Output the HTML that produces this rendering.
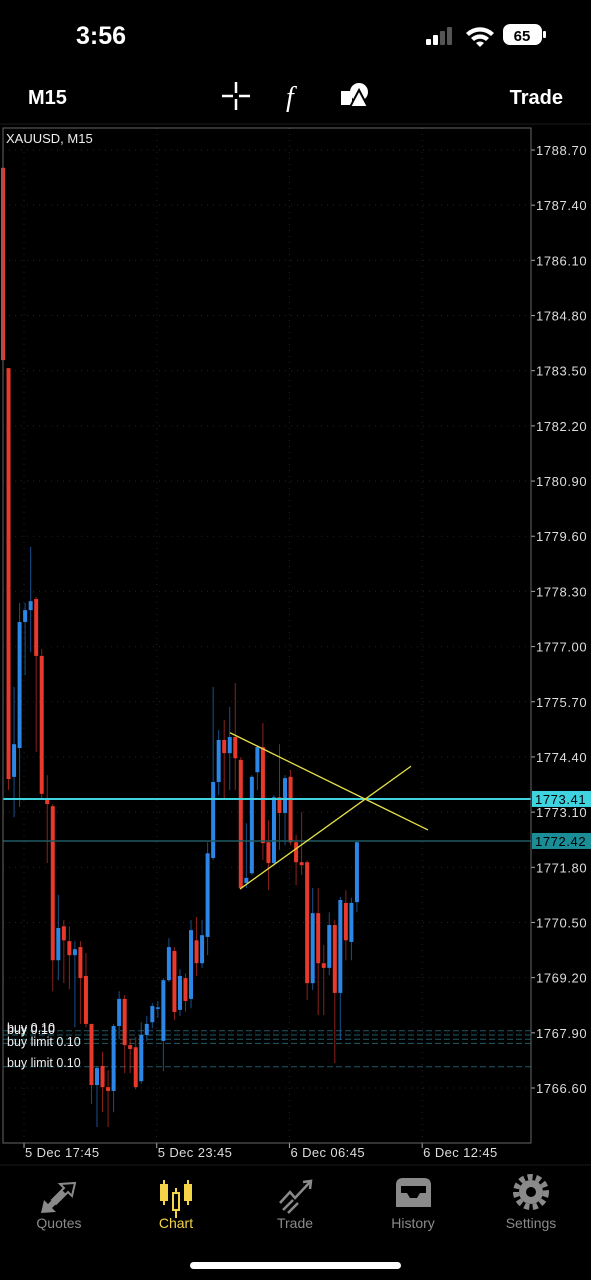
<!DOCTYPE html>
<html><head><meta charset="utf-8"><style>
html,body{margin:0;padding:0;background:#000;width:591px;height:1280px;overflow:hidden;font-family:"Liberation Sans",sans-serif;}
svg{display:block}
</style></head><body>
<svg id="root" width="591" height="1280" viewBox="0 0 591 1280">
  <rect width="591" height="1280" fill="#000"/>
  <text x="76" y="44" fill="#fff" font-size="25" font-weight="600">3:56</text>
  <g>
    <rect x="426" y="39" width="5" height="6" rx="1" fill="#fff"/>
    <rect x="433" y="35" width="5" height="10" rx="1" fill="#fff"/>
    <rect x="440" y="31" width="5" height="14" rx="1" fill="#555"/>
    <rect x="447" y="27" width="5" height="18" rx="1" fill="#555"/>
  </g>
  <g fill="#fff">
    <path d="M466 33 A20 20 0 0 1 494 33 L491 36 A16 16 0 0 0 469 36 Z"/>
    <path d="M471 38 A13 13 0 0 1 489 38 L486 41 A9 9 0 0 0 474 41 Z"/>
    <path d="M476 43 A6 6 0 0 1 484 43 L480 47 Z"/>
  </g>
  <g>
    <rect x="503" y="24" width="39" height="21" rx="7" fill="#fff"/>
    <rect x="543" y="31" width="3" height="7" rx="1" fill="#fff"/>
    <text x="522" y="41" fill="#000" font-size="15" font-weight="700" text-anchor="middle">65</text>
  </g>
  <text x="28" y="104" fill="#fff" font-size="20" font-weight="700">M15</text>
  <g stroke="#fff" stroke-width="2.5">
    <line x1="222" y1="96" x2="233" y2="96"/><line x1="239" y1="96" x2="250" y2="96"/>
    <line x1="236" y1="82" x2="236" y2="93"/><line x1="236" y1="99" x2="236" y2="110"/>
  </g>
  <text x="286" y="106" fill="#fff" font-size="28" font-style="italic" font-family="Liberation Serif,serif">f</text>
  <g fill="#fff">
    <rect x="341" y="91" width="11" height="14"/>
    <circle cx="359" cy="92" r="9"/>
    <polygon points="359,90 368,107 350,107" fill="#fff" stroke="#000" stroke-width="2"/>
  </g>
  <text x="563" y="104" fill="#fff" font-size="20" font-weight="700" text-anchor="end">Trade</text>
  <line x1="0" y1="124" x2="591" y2="124" stroke="#1a1a1a"/>
  <g id="chart"></g>
  <line x1="0" y1="1165" x2="591" y2="1165" stroke="#1a1a1a"/>
  <g>
    <g fill="#8a8a8a"><polygon points="41,1213 44,1200 48,1204 62,1190 66,1194 52,1208 56,1212"/><polygon points="75,1183 72,1196 68,1192 56,1204 52,1200 64,1188 60,1184" fill="none" stroke="#8a8a8a" stroke-width="2"/></g>
    <text x="59" y="1228" fill="#8a8a8a" font-size="14" text-anchor="middle">Quotes</text>
  </g>
  <g>
    <g fill="#f5d547" stroke="#f5d547" stroke-width="2">
      <line x1="164" y1="1180" x2="164" y2="1205"/><rect x="161" y="1185" width="6" height="15"/>
      <line x1="176" y1="1188" x2="176" y2="1218"/><rect x="173" y="1193" width="6" height="17" fill="#000"/>
      <line x1="188" y1="1180" x2="188" y2="1205"/><rect x="185" y="1185" width="6" height="15"/>
    </g>
    <text x="176" y="1228" fill="#f5d547" font-size="14" text-anchor="middle">Chart</text>
  </g>
  <g>
    <g stroke="#8a8a8a" stroke-width="2.5" fill="none"><polyline points="280,1203 290,1192 295,1198 310,1182"/><polyline points="303,1182 311,1181 310,1189"/><line x1="283" y1="1210" x2="293" y2="1200"/><line x1="288" y1="1213" x2="298" y2="1203"/></g>
    <text x="295" y="1228" fill="#8a8a8a" font-size="14" text-anchor="middle">Trade</text>
  </g>
  <g>
    <path d="M396 1185 Q396 1178 403 1178 L424 1178 Q431 1178 431 1185 L431 1207 L396 1207 Z" fill="#8a8a8a"/>
    <path d="M401 1186 L426 1186 L426 1193 L420 1193 L417 1198 L410 1198 L407 1193 L401 1193 Z" fill="#000"/>
    <text x="413" y="1228" fill="#8a8a8a" font-size="14" text-anchor="middle">History</text>
  </g>
  <g>
    <circle cx="531" cy="1192" r="15" fill="none" stroke="#8a8a8a" stroke-width="6" stroke-dasharray="5 3.4"/>
    <circle cx="531" cy="1192" r="12" fill="#8a8a8a"/><circle cx="531" cy="1192" r="5" fill="#000"/>
    <text x="531" y="1228" fill="#8a8a8a" font-size="14" text-anchor="middle">Settings</text>
  </g>
  <rect x="190" y="1262" width="211" height="7" rx="3.5" fill="#fff"/>
</svg>
<script>
const opens  = [1788.28,1783.56,1773.93,1774.61,1777.58,1777.86,1778.12,1776.78,1773.43,1773.24,1769.61,1770.41,1770.06,1769.73,1769.92,1769.24,1768.11,1766.67,1767.12,1766.62,1766.53,1768.06,1768.70,1767.61,1767.56,1766.76,1767.85,1768.15,1768.48,1767.71,1769.14,1769.83,1768.44,1769.19,1768.70,1770.08,1769.54,1770.16,1772.02,1773.81,1774.80,1774.49,1774.87,1774.33,1771.43,1771.66,1774.04,1774.63,1772.39,1771.90,1773.45,1773.08,1773.93,1772.39,1771.92,1771.92,1769.07,1770.72,1769.54,1769.43,1770.44,1768.84,1770.96,1770.04,1770.98];
const closes = [1783.75,1773.88,1774.70,1777.58,1777.86,1778.07,1776.78,1773.53,1773.29,1769.61,1770.37,1770.08,1769.73,1769.87,1769.19,1768.11,1766.67,1767.07,1766.62,1766.53,1768.06,1768.70,1767.61,1767.52,1766.62,1767.85,1768.11,1768.53,1768.50,1769.14,1769.92,1768.39,1769.24,1768.65,1770.32,1769.54,1770.20,1772.13,1773.81,1774.80,1774.49,1774.87,1774.37,1771.31,1771.55,1773.93,1774.63,1772.37,1771.90,1773.45,1773.08,1773.90,1772.39,1771.92,1771.85,1769.07,1770.72,1769.54,1769.43,1770.44,1768.84,1771.03,1770.08,1770.96,1772.39];
const highs  = [1788.28,1783.56,1776.05,1778.03,1778.03,1779.35,1778.17,1776.94,1773.97,1773.29,1771.15,1770.56,1770.41,1770.06,1770.06,1769.78,1768.11,1767.12,1767.45,1767.02,1768.11,1768.88,1768.79,1767.75,1767.80,1768.15,1768.30,1768.60,1768.65,1769.19,1770.13,1769.92,1769.40,1769.30,1770.56,1770.63,1770.56,1772.39,1776.05,1775.03,1775.27,1775.58,1776.14,1774.40,1772.84,1773.97,1774.68,1775.20,1772.91,1773.50,1774.70,1773.97,1774.09,1772.56,1773.10,1771.97,1771.31,1771.31,1769.97,1770.74,1770.56,1771.10,1771.26,1771.08,1772.41];
const lows   = [1783.75,1773.62,1772.98,1773.22,1776.33,1776.87,1774.52,1773.43,1771.90,1768.88,1769.14,1769.07,1768.93,1768.03,1768.11,1768.03,1766.22,1765.68,1766.03,1765.68,1766.03,1767.75,1766.95,1766.95,1766.57,1766.70,1767.70,1768.01,1768.25,1767.00,1769.10,1768.20,1768.30,1768.40,1768.48,1769.24,1769.43,1769.73,1771.97,1773.50,1773.38,1773.62,1773.62,1771.27,1771.31,1771.62,1773.62,1771.97,1771.26,1771.85,1772.21,1772.32,1772.32,1771.38,1771.62,1768.67,1768.91,1768.32,1768.32,1769.26,1767.19,1767.73,1769.61,1769.61,1770.74];
const priceTicks = ["1788.70","1787.40","1786.10","1784.80","1783.50","1782.20","1780.90","1779.60","1778.30","1777.00","1775.70","1774.40","1773.10","1771.80","1770.50","1769.20","1767.90","1766.60"];
const timeLabels = ["5 Dec 17:45","5 Dec 23:45","6 Dec 06:45","6 Dec 12:45"];
const timeLabelIdx = [3.8,27.8,51.8,75.8];
const levelPrices = [1773.41,1772.42];
const orderPrices = [1767.95,1767.85,1767.75,1767.65,1767.10];
const trendA = [[41.05,1774.97],[76.85,1772.68]];
const trendB = [[42.86,1771.29],[73.78,1774.18]];

const NS="http://www.w3.org/2000/svg";
const g=document.getElementById('chart');
const L=3,R=531,T=128,B=1143;
const yOf=p=>150+(1788.70-p)*(938/22.1);
const xOf=i=>3+i*5.53;
function mk(tag,attrs,parent){const e=document.createElementNS(NS,tag);for(const k in attrs)e.setAttribute(k,attrs[k]);(parent||g).appendChild(e);return e;}

priceTicks.forEach((t,i)=>{
  const y=yOf(parseFloat(t));
  const gl=mk('line',{x1:L,x2:R,y1:y,y2:y,stroke:'#232323','stroke-dasharray':'1 5'});
  
  
  mk('line',{x1:R,x2:R+4,y1:y,y2:y,stroke:'#aaa'});
  const tx=mk('text',{x:536,y:y+5,fill:'#ddd','font-size':13,'letter-spacing':'0.6'});
  tx.textContent=t;
  
  
});
timeLabels.forEach((t,i)=>{
  const x=xOf(timeLabelIdx[i]);
  const gl=mk('line',{x1:x,x2:x,y1:T,y2:B,stroke:'#232323','stroke-dasharray':'1 5'});
  
  
  mk('line',{x1:x,x2:x,y1:B,y2:B+5,stroke:'#aaa'});
  const tx=mk('text',{x:x+1,y:1157,fill:'#ddd','font-size':13,'letter-spacing':'0.4'});
  tx.textContent=t;
  
  
});
orderPrices.forEach((p,i)=>{
  const y=yOf(p);
  const ol=mk('line',{x1:L,x2:R,y1:y,y2:y,stroke:'#1f5a66','stroke-dasharray':'6 3','stroke-width':1});
  
  
});
opens.forEach((o,i)=>{
  const c=closes[i],x=xOf(i),up=c>=o,col=up?'#2b86e6':'#e8392c';
  const grp=mk('g',{});
  
  
  mk('line',{x1:x,x2:x,y1:yOf(highs[i]),y2:yOf(lows[i]),stroke:col,'stroke-width':1,opacity:0.6},grp);
  const yt=yOf(Math.max(o,c)),yb=yOf(Math.min(o,c));
  mk('rect',{x:x-2,y:yt,width:4,height:Math.max(1.5,yb-yt),fill:col},grp);
});
levelPrices.forEach((p,i)=>{
  const y=yOf(p);
  const ln=mk('line',{x1:L,x2:R,y1:y,y2:y,stroke:i==0?'#3fd3e0':'#1d5b63','stroke-width':i==0?2:1.5});
  
  
  const bg=mk('rect',{x:532,y:y-8,width:59,height:16,fill:i==0?'#3fd3e0':'#1a8d96'});
  
  
  const tx=mk('text',{x:535,y:y+5,fill:'#000','font-size':13,'letter-spacing':'0.6'});
  tx.textContent=p.toFixed(2);
  
  
});
[trendA,trendB].forEach(t=>{
  const ln=mk('line',{x1:xOf(t[0][0]),y1:yOf(t[0][1]),x2:xOf(t[1][0]),y2:yOf(t[1][1]),stroke:'#e6e04a','stroke-width':1.3});
  
  
});
[["buy 0.10",1032],["buy 0.10",1034],["buy limit 0.10",1046],["buy limit 0.10",1067]].forEach(a=>{
  const tx=mk('text',{x:7,y:a[1],fill:'#eee','font-size':12.5});
  tx.textContent=a[0];
  
  
});
const fr=mk('rect',{x:L,y:T,width:R-L,height:B-T,fill:'none',stroke:'#666','stroke-width':1});


const sym=mk('text',{x:6,y:143,fill:'#eee','font-size':13});
sym.textContent='XAUUSD, M15';


</script>
</body></html>
